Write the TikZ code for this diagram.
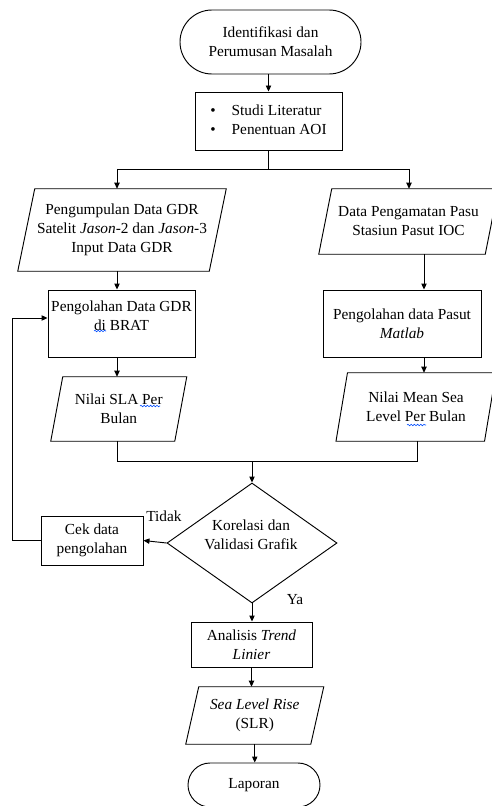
\documentclass[tikz,border=0pt]{standalone}
\usepackage{fontspec}
\setmainfont{Liberation Serif}
\usetikzlibrary{arrows.meta,shapes.geometric,shapes.misc,decorations.pathmorphing}
\newcommand{\parashape}[2]{\draw[ln] ([xshift=#2*0.75pt]#1.north west) -- ([xshift=#2*0.75pt]#1.north east) -- ([xshift=-#2*0.75pt]#1.south east) -- ([xshift=-#2*0.75pt]#1.south west) -- cycle;}
\begin{document}
\begin{tikzpicture}[x=0.75pt,y=-0.75pt,
  every node/.style={font=\fontsize{11.5}{14.25}\selectfont},
  ln/.style={line width=0.7pt, draw=black},
  arr/.style={ln,-{Triangle[length=4.5pt,width=4pt]}},
  sz/.style 2 args={minimum width=#1*0.75pt, minimum height=#2*0.75pt},
  box/.style={ln, rectangle, inner sep=0pt, align=center},
  txt/.style={align=center, inner sep=0pt},
  term/.style={ln, rounded rectangle, inner sep=0pt, align=center},
  pbox/.style={rectangle, inner sep=0pt, align=center},
  wavy/.style={draw=blue!70!cyan, line width=0.45pt, decorate, decoration={snake, amplitude=0.55pt, segment length=2.4pt}},
]
\useasboundingbox (0,0) rectangle (492,806);

\node[term, sz={181}{64}] (t1) at (270.5,42) {Identifikasi dan\\Perumusan Masalah};
\node[box, sz={147}{58}] (s) at (268.5,121) {\begin{tabular}{@{}l@{\hspace{12pt}}l@{}}\textbullet & Studi Literatur\\ \textbullet & Penentuan AOI\end{tabular}};
\node[pbox, sz={191}{82}] (p1) at (122,230) {Pengumpulan Data GDR\\Satelit \textit{Jason}-2 dan \textit{Jason}-3\\Input Data GDR};
\node[pbox, sz={166}{65}] (p2) at (408.5,221.5) {Data Pengamatan Pasu\\Stasiun Pasut IOC};
\node[box, sz={147}{67}] (b1) at (121.5,323.5) {};
\node[txt] (b1t) at (121.5,315.5) {Pengolahan Data GDR\\di BRAT};
\node[box, sz={158}{67}] (b2) at (402,323.5) {Pengolahan data Pasut\\\textit{Matlab}};
\node[pbox, sz={123.5}{64}] (p3) at (118.75,409) {Nilai SLA Per\\Bulan};
\node[pbox, sz={148}{68}] (p4) at (416,407) {Nilai Mean Sea\\Level Per Bulan};
\node[ln, diamond, aspect=1.4, inner sep=1pt, sz={170}{120}] (d) at (252,543) {};
\node[txt] (dt) at (251,535) {Korelasi dan\\Validasi Grafik};
\node[box, sz={102}{49}] (c) at (92,540.5) {Cek data\\pengolahan};
\node[txt] (tidak) at (164,516) {Tidak};
\node[txt] (ya) at (295,600) {Ya};
\node[box, sz={121}{45}] (a) at (251.5,644.5) {Analisis \textit{Trend}\\\textit{Linier}};
\node[pbox, sz={124.5}{57}] (p5) at (254.75,715.5) {\textit{Sea Level Rise}\\(SLR)};
\node[term, sz={132}{44}] (l) at (254,785) {Laporan};

\parashape{p1}{8.5}
\parashape{p2}{6.5}
\parashape{p3}{6}
\parashape{p4}{5.75}
\parashape{p5}{6.5}

% connectors
\draw[arr] (s.north |- t1.south) -- (s.north);
\coordinate (sj) at (268.5,169);
\coordinate (jl) at (117,169);
\coordinate (jr) at (409,169);
\draw[ln] (s.south) -- (sj);
\draw[ln] (jl) -- (jr);
\draw[arr] (jl) -- (jl |- p1.north);
\draw[arr] (jr) -- (jr |- p2.north);
\draw[arr] (jl |- p1.south) -- (jl |- b1.north);
\draw[arr] (jl |- b1.south) -- (jl |- p3.north);
\coordinate (xr) at (424,0);
\draw[arr] (xr |- p2.south) -- (xr |- b2.north);
\draw[arr] (xr |- b2.south) -- (xr |- p4.north);
\coordinate (ml) at (117,461);
\coordinate (mr) at (417,461);
\draw[ln] (ml |- p3.south) -- (ml) -- (mr) -- (mr |- p4.south);
\draw[arr] (d.north |- ml) -- (d.north);
\draw[arr] (d.west) -- (c.east);
\coordinate (fb) at (12,318);
\draw[arr] (c.west) -| (fb) -- (fb -| b1.west);
\draw[arr] (d.south) -- (d.south |- a.north);
\draw[arr] (a.south) -- (a.south |- p5.north);
\draw[arr] (p5.south) -- (p5.south |- l.north);

% spell-check underlines
\draw[wavy] (94,331) -- (106,331);
\draw[wavy] (140,406) -- (160,406);
\draw[wavy] (407,425) -- (426,425);
\end{tikzpicture}
\end{document}
